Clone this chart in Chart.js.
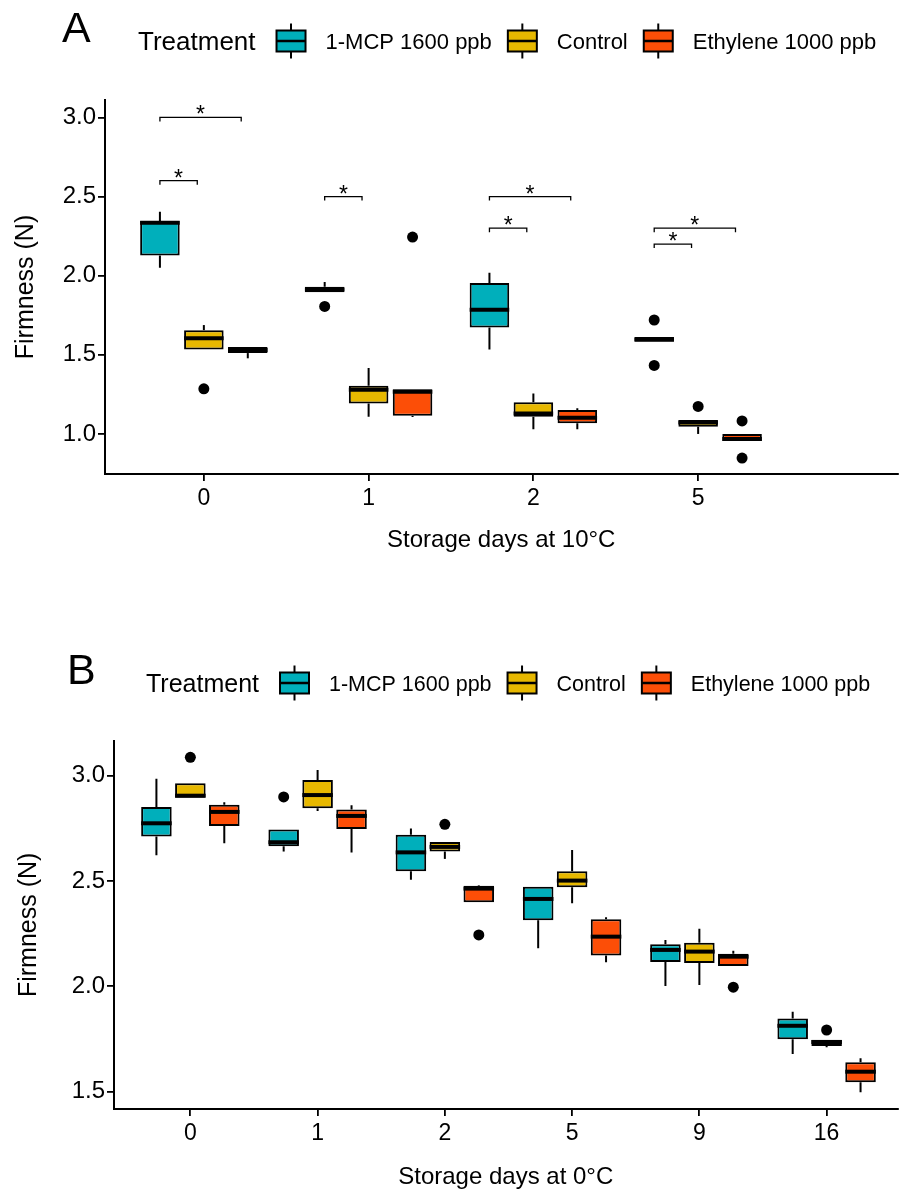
<!DOCTYPE html>
<html>
<head>
<meta charset="utf-8">
<script src="https://cdn.jsdelivr.net/npm/chart.js@4.4.1/dist/chart.umd.min.js"></script>
<style>
  body { margin: 0; background: #fff; }
  canvas { display: block; }
</style>
</head>
<body>
<canvas id="chartA" width="903" height="600"></canvas>
<canvas id="chartB" width="903" height="593"></canvas>
<script>
const treatments = ["1-MCP 1600 ppb", "Control", "Ethylene 1000 ppb"];
const colors = ["#00AFBB", "#E7B800", "#FC4E07"];

// Panel A: storage at 10°C
// each row: [lower whisker, q1, median, q3, upper whisker]
const daysA = ["0", "1", "2", "5"];
const mcpA = [
  [2.05, 2.128, 2.335, 2.345, 2.404],
  [1.895, 1.895, 1.912, 1.93, 1.96],
  [1.534, 1.673, 1.785, 1.953, 2.018],
  [1.582, 1.582, 1.597, 1.612, 1.612],
];
const ctrlA = [
  [1.534, 1.534, 1.604, 1.656, 1.688],
  [1.109, 1.193, 1.28, 1.305, 1.416],
  [1.029, 1.109, 1.13, 1.2, 1.256],
  [1.0, 1.046, 1.073, 1.088, 1.088],
];
const ethA = [
  [1.478, 1.511, 1.53, 1.549, 1.549],
  [1.107, 1.115, 1.267, 1.282, 1.282],
  [1.029, 1.067, 1.103, 1.151, 1.162],
  [0.955, 0.955, 0.968, 1.0, 1.0],
];
// outliers: [day index, firmness]
const mcpOutA = [[1, 1.806], [3, 1.72], [3, 1.433]];
const ctrlOutA = [[0, 1.285], [3, 1.174]];
const ethOutA = [[1, 2.244], [3, 1.082], [3, 0.848]];
// significance: [day index, group from, group to, height]
const sigA = [
  [0, 0, 2, 3.0],
  [0, 0, 1, 2.6],
  [1, 0, 1, 2.5],
  [2, 0, 2, 2.5],
  [2, 0, 1, 2.3],
  [3, 0, 2, 2.3],
  [3, 0, 1, 2.2],
];
const yTicksA = [1.0, 1.5, 2.0, 2.5, 3.0];

// Panel B: storage at 0°C
const daysB = ["0", "1", "2", "5", "9", "16"];
const mcpB = [
  [2.622, 2.711, 2.774, 2.851, 2.986],
  [2.64, 2.665, 2.684, 2.745, 2.745],
  [2.506, 2.546, 2.636, 2.72, 2.749],
  [2.181, 2.314, 2.415, 2.473, 2.473],
  [2.002, 2.116, 2.173, 2.2, 2.22],
  [1.679, 1.749, 1.813, 1.847, 1.88],
];
const ctrlB = [
  [2.895, 2.895, 2.905, 2.964, 2.964],
  [2.832, 2.845, 2.908, 2.98, 3.027],
  [2.605, 2.64, 2.662, 2.685, 2.685],
  [2.394, 2.47, 2.502, 2.546, 2.647],
  [2.007, 2.111, 2.165, 2.207, 2.274],
  [1.711, 1.717, 1.736, 1.747, 1.747],
];
const ethB = [
  [2.679, 2.761, 2.828, 2.862, 2.874],
  [2.635, 2.747, 2.809, 2.84, 2.86],
  [2.399, 2.399, 2.464, 2.477, 2.48],
  [2.114, 2.146, 2.236, 2.318, 2.328],
  [2.097, 2.097, 2.141, 2.155, 2.169],
  [1.497, 1.545, 1.595, 1.64, 1.659],
];
const mcpOutB = [[1, 2.899]];
const ctrlOutB = [[0, 3.087], [2, 2.769], [5, 1.793]];
const ethOutB = [[2, 2.244], [4, 1.996]];
const yTicksB = [1.5, 2.0, 2.5, 3.0];

Chart.defaults.font.family = "'Liberation Sans', Arial, sans-serif";
Chart.defaults.color = "#000";

const FONT = "'Liberation Sans', Arial, sans-serif";
const dodge = 0.8 / 3; // matches categoryPercentage 0.8 split over 3 groups

// whiskers under the boxes, medians on top
const boxParts = {
  id: "boxParts",
  beforeDatasetsDraw(chart) {
    const { ctx } = chart;
    const y = chart.scales.y;
    chart.data.datasets.forEach((ds, di) => {
      if (!ds.stats) return;
      const meta = chart.getDatasetMeta(di);
      ctx.save();
      ctx.strokeStyle = "#000";
      ctx.lineWidth = 2;
      meta.data.forEach((bar, i) => {
        const s = ds.stats[i];
        ctx.beginPath();
        ctx.moveTo(bar.x, y.getPixelForValue(s[0]));
        ctx.lineTo(bar.x, y.getPixelForValue(s[1]));
        ctx.moveTo(bar.x, y.getPixelForValue(s[3]));
        ctx.lineTo(bar.x, y.getPixelForValue(s[4]));
        ctx.stroke();
      });
      ctx.restore();
    });
  },
  afterDatasetsDraw(chart) {
    const { ctx } = chart;
    const y = chart.scales.y;
    chart.data.datasets.forEach((ds, di) => {
      if (!ds.stats) return;
      const meta = chart.getDatasetMeta(di);
      ctx.save();
      ctx.strokeStyle = "#000";
      ctx.lineWidth = 4;
      meta.data.forEach((bar, i) => {
        const py = y.getPixelForValue(ds.stats[i][2]);
        ctx.beginPath();
        ctx.moveTo(bar.x - bar.width / 2, py);
        ctx.lineTo(bar.x + bar.width / 2, py);
        ctx.stroke();
      });
      ctx.restore();
    });
  },
};

// brackets with stars
const sigMarks = {
  id: "sigMarks",
  afterDatasetsDraw(chart, args, opts) {
    if (!opts.pairs) return;
    const { ctx } = chart;
    const x = chart.scales.x, y = chart.scales.y;
    ctx.save();
    ctx.strokeStyle = "#000";
    ctx.fillStyle = "#000";
    ctx.lineWidth = 1.3;
    ctx.font = "23px " + FONT;
    ctx.textAlign = "center";
    opts.pairs.forEach(([d, g1, g2, h]) => {
      const x1 = x.getPixelForValue(d + (g1 - 1) * dodge);
      const x2 = x.getPixelForValue(d + (g2 - 1) * dodge - 0.04);
      const py = y.getPixelForValue(h);
      ctx.beginPath();
      ctx.moveTo(x1, py + 4);
      ctx.lineTo(x1, py);
      ctx.lineTo(x2, py);
      ctx.lineTo(x2, py + 4);
      ctx.stroke();
      ctx.fillText("*", (x1 + x2) / 2, py + 5);
    });
    ctx.restore();
  },
};

// panel letter and legend row
const boxLegend = {
  id: "boxLegend",
  afterDraw(chart, args, opts) {
    const { ctx } = chart;
    ctx.save();
    ctx.fillStyle = "#000";
    ctx.textBaseline = "alphabetic";
    ctx.font = "43px " + FONT;
    ctx.fillText(opts.letter, opts.letterX, opts.letterY);

    const cy = opts.y;
    let cx = opts.x;
    ctx.font = opts.titleSize + "px " + FONT;
    ctx.fillText("Treatment", cx, cy + 9);
    cx += ctx.measureText("Treatment").width + 21;
    ctx.font = opts.labelSize + "px " + FONT;
    treatments.forEach((t, k) => {
      const w = 29, h = 21;
      ctx.strokeStyle = "#000";
      ctx.lineWidth = 2;
      ctx.beginPath();
      ctx.moveTo(cx + w / 2, cy - h / 2 - 7);
      ctx.lineTo(cx + w / 2, cy + h / 2 + 7);
      ctx.stroke();
      ctx.fillStyle = colors[k];
      ctx.fillRect(cx, cy - h / 2, w, h);
      ctx.strokeRect(cx, cy - h / 2, w, h);
      ctx.beginPath();
      ctx.lineWidth = 2.5;
      ctx.moveTo(cx, cy);
      ctx.lineTo(cx + w, cy);
      ctx.stroke();
      ctx.fillStyle = "#000";
      cx += w + 20;
      ctx.fillText(t, cx, cy + 8);
      cx += ctx.measureText(t).width + 16;
    });
    ctx.restore();
  },
};

function makeChart(id, cfg) {
  const groups = [cfg.mcp, cfg.ctrl, cfg.eth];
  const outs = [cfg.mcpOut, cfg.ctrlOut, cfg.ethOut];
  const datasets = [];
  groups.forEach((g, k) => {
    datasets.push({
      type: "bar",
      label: treatments[k],
      data: g.map((s, i) => ({ x: i, y: [s[1], s[3]] })),
      stats: g,
      backgroundColor: colors[k],
      borderColor: "#000",
      borderWidth: 2,
      borderSkipped: false,
      categoryPercentage: 0.8,
      barPercentage: 0.9,
      order: 2,
    });
  });
  outs.forEach((o, k) => {
    datasets.push({
      type: "scatter",
      label: treatments[k] + " outliers",
      data: o.map(([d, v]) => ({ x: d + (k - 1) * dodge, y: v })),
      pointRadius: 5.5,
      pointBackgroundColor: "#000",
      pointBorderWidth: 0,
      order: 1,
    });
  });

  return new Chart(document.getElementById(id), {
    type: "bar",
    data: { datasets },
    plugins: [boxParts, sigMarks, boxLegend],
    options: {
      responsive: false,
      animation: false,
      devicePixelRatio: 1,
      layout: { padding: { top: cfg.top, left: 0, right: 0, bottom: 0 } },
      plugins: {
        legend: { display: false },
        tooltip: { enabled: false },
        sigMarks: { pairs: cfg.sig },
        boxLegend: cfg.legend,
      },
      scales: {
        x: {
          type: "linear",
          min: -0.6,
          max: cfg.xMax,
          offset: false,
          afterBuildTicks: (s) => { s.ticks = cfg.days.map((d, i) => ({ value: i })); },
          afterFit: (s) => { s.height = cfg.xHeight; },
          ticks: {
            callback: (v) => cfg.days[v],
            font: { size: 23 },
            color: "#000",
            padding: cfg.xTickPad,
            maxRotation: 0,
            autoSkip: false,
          },
          grid: { offset: false, drawOnChartArea: false, drawTicks: true, tickLength: 7, color: "#000", lineWidth: 1.8 },
          border: { display: true, color: "#000", width: 2 },
          title: {
            display: true,
            text: cfg.xTitle,
            font: { size: 24 },
            color: "#000",
            padding: { top: 0, bottom: cfg.xTitlePad },
          },
        },
        y: {
          type: "linear",
          min: cfg.yMin,
          max: cfg.yMax,
          afterBuildTicks: (s) => { s.ticks = cfg.yTicks.map((v) => ({ value: v })); },
          afterFit: (s) => { s.width = cfg.yWidth; },
          ticks: {
            callback: (v) => v.toFixed(1),
            font: { size: 24 },
            color: "#000",
            padding: 2,
          },
          grid: { drawOnChartArea: false, drawTicks: true, tickLength: 7, color: "#000", lineWidth: 1.8 },
          border: { display: true, color: "#000", width: 2 },
          title: {
            display: true,
            text: "Firmness (N)",
            font: { size: 25 },
            color: "#000",
            padding: { top: cfg.yTitlePad, bottom: 0 },
          },
        },
      },
    },
  });
}

makeChart("chartA", {
  days: daysA, mcp: mcpA, ctrl: ctrlA, eth: ethA,
  mcpOut: mcpOutA, ctrlOut: ctrlOutA, ethOut: ethOutA,
  sig: sigA, yTicks: yTicksA,
  yMin: 0.747, yMax: 3.11, xMax: 4.21,
  top: 100, xHeight: 126, yWidth: 105,
  xTickPad: 4, xTitlePad: 45, yTitlePad: 11,
  xTitle: "Storage days at 10°C",
  legend: { letter: "A", letterX: 62, letterY: 42, x: 138, y: 41, titleSize: 26, labelSize: 22 },
});

makeChart("chartB", {
  days: daysB, mcp: mcpB, ctrl: ctrlB, eth: ethB,
  mcpOut: mcpOutB, ctrlOut: ctrlOutB, ethOut: ethOutB,
  sig: null, yTicks: yTicksB,
  yMin: 1.418, yMax: 3.166, xMax: 5.557,
  top: 140.7, xHeight: 84, yWidth: 114,
  xTickPad: 4, xTitlePad: 1, yTitlePad: 14,
  xTitle: "Storage days at 0°C",
  legend: { letter: "B", letterX: 67, letterY: 84, x: 146, y: 83, titleSize: 25, labelSize: 21.5 },
});
</script>
</body>
</html>
